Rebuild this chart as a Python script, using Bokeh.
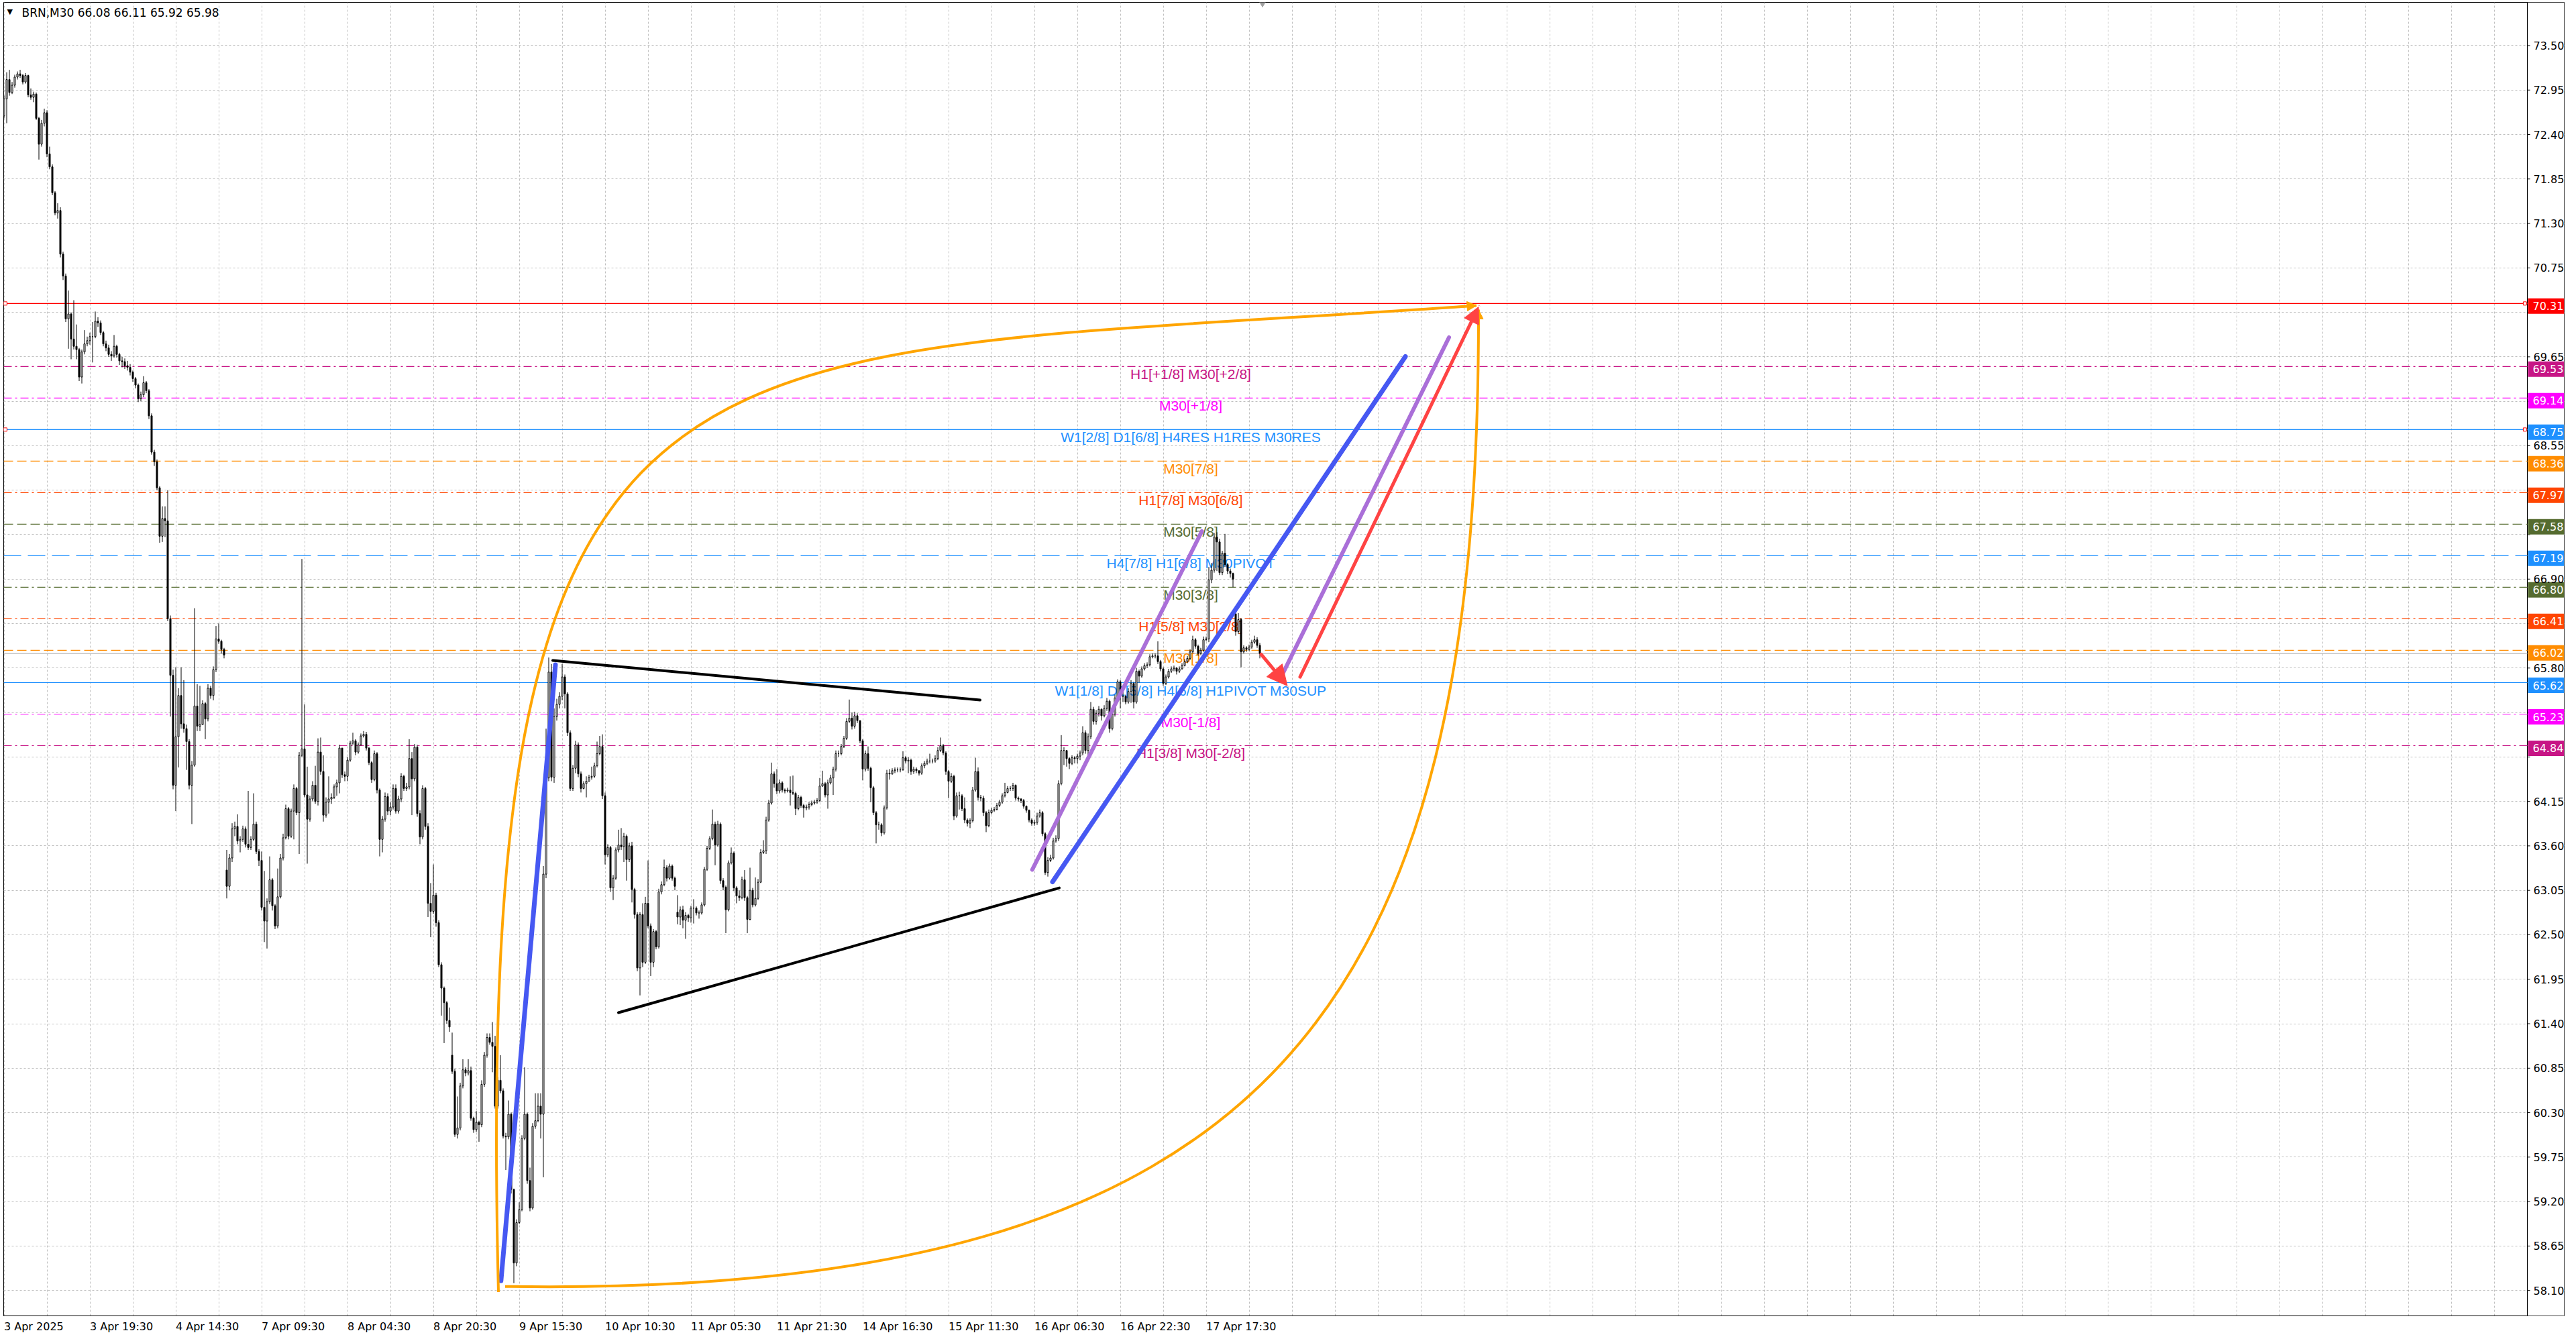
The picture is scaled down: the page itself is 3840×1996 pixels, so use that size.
from bokeh.plotting import figure
from bokeh.models import (Range1d, FixedTicker, PrintfTickFormatter, Arrow,
                          NormalHead, ColumnDataSource)
from bokeh.core.properties import value
from bokeh.embed import file_html
from bokeh.resources import INLINE

# ---------------- data ----------------
symbol = "BRN,M30"
first_open = 72.63
gap_opens = {83: 63.30, 167: 61.01, 251: 62.78, 459: 66.47}

closes = [
 72.84, 73.08, 72.92, 73.01, 73.11, 73.15, 73.13, 73.05, 73.13, 72.89,
 72.86, 72.90, 72.60, 72.28, 72.54, 72.67, 72.16, 72.00, 71.68, 71.43,
 71.46, 70.92, 70.65, 70.12, 70.18, 69.87, 69.78, 69.74, 69.40, 69.71,
 69.81, 69.85, 69.90, 69.90, 70.09, 70.07, 69.95, 69.81, 69.76, 69.68,
 69.66, 69.78, 69.68, 69.60, 69.59, 69.54, 69.52, 69.46, 69.38, 69.30,
 69.13, 69.18, 69.33, 69.23, 68.92, 68.47, 68.35, 68.03, 67.43, 67.65,
 67.62, 66.41, 65.71, 64.35, 64.95, 65.46, 65.11, 65.05, 64.89, 64.35,
 64.60, 65.33, 65.08, 65.10, 65.36, 65.17, 65.55, 65.46, 65.78, 66.16,
 66.13, 66.03, 65.96, 63.10, 63.45, 63.81, 63.84, 63.66, 63.68, 63.81,
 63.62, 63.58, 63.68, 63.87, 63.53, 63.42, 62.84, 62.67, 62.91, 63.18,
 62.86, 62.61, 62.97, 63.45, 63.70, 64.06, 63.72, 64.03, 64.31, 64.01,
 64.72, 64.80, 64.23, 63.93, 64.18, 64.35, 64.15, 64.76, 64.52, 63.98,
 64.14, 64.18, 64.20, 64.33, 64.38, 64.81, 64.48, 64.46, 64.66, 64.87,
 64.90, 64.76, 64.85, 64.96, 64.98, 64.81, 64.63, 64.42, 64.74, 64.29,
 63.68, 63.93, 64.21, 64.03, 64.08, 64.31, 64.03, 64.18, 64.46, 64.31,
 64.33, 64.68, 64.43, 64.82, 64.00, 63.71, 64.31, 63.84, 62.89, 62.79,
 62.99, 62.65, 62.13, 61.84, 61.66, 61.44, 61.36, 60.81, 60.03, 60.11,
 60.63, 60.83, 60.79, 60.82, 60.23, 60.09, 60.18, 60.15, 60.65, 61.01,
 61.23, 61.17, 61.12, 60.38, 60.70, 60.57, 60.01, 60.00, 60.28, 59.35,
 58.44, 58.94, 59.10, 59.98, 60.28, 59.46, 59.12, 60.13, 60.20, 60.38,
 60.28, 63.25, 64.44, 65.75, 64.45, 65.20, 65.35, 65.45, 65.69, 65.48,
 65.00, 64.31, 64.56, 64.85, 64.49, 64.31, 64.37, 64.40, 64.45, 64.46,
 64.59, 64.74, 64.83, 64.22, 63.49, 63.58, 63.08, 63.20, 63.55, 63.61,
 63.59, 63.72, 63.43, 63.60, 63.06, 62.75, 62.09, 62.75, 62.16, 62.89,
 62.61, 62.16, 62.54, 62.35, 63.03, 63.12, 63.33, 63.20, 63.35, 63.20,
 63.10, 62.72, 62.81, 62.68, 62.74, 62.71, 62.83, 62.83, 62.77, 62.77,
 62.87, 63.31, 63.57, 63.69, 63.87, 63.61, 63.87, 63.17, 63.09, 62.81,
 63.39, 63.51, 63.08, 62.98, 62.96, 63.18, 62.96, 62.69, 63.05, 62.87,
 62.95, 63.15, 63.52, 63.54, 63.92, 64.13, 64.49, 64.37, 64.28, 64.38,
 64.29, 64.28, 64.29, 64.26, 64.25, 64.06, 64.20, 64.10, 64.07, 64.08,
 64.11, 64.13, 64.14, 64.16, 64.34, 64.37, 64.23, 64.38, 64.44, 64.55,
 64.74, 64.74, 64.83, 64.93, 65.14, 65.18, 65.08, 65.21, 65.15, 64.90,
 64.55, 64.74, 64.56, 64.32, 64.01, 63.86, 63.86, 63.76, 64.07, 64.50,
 64.49, 64.53, 64.54, 64.54, 64.54, 64.69, 64.65, 64.66, 64.52, 64.55,
 64.53, 64.50, 64.59, 64.62, 64.65, 64.65, 64.65, 64.68, 64.78, 64.84,
 64.75, 64.52, 64.40, 64.46, 63.97, 64.22, 64.22, 64.06, 63.92, 63.88,
 63.91, 64.29, 64.52, 64.20, 64.19, 64.01, 63.85, 64.01, 64.04, 64.05,
 64.10, 64.14, 64.22, 64.26, 64.31, 64.31, 64.35, 64.19, 64.18, 64.16,
 64.09, 64.04, 63.92, 63.88, 63.89, 63.97, 64.01, 63.75, 63.27, 63.42,
 63.45, 63.66, 63.69, 64.37, 64.78, 64.78, 64.68, 64.62, 64.69, 64.68,
 64.71, 64.75, 65.00, 64.78, 64.95, 65.29, 65.14, 65.24, 65.29, 65.21,
 65.30, 65.39, 65.05, 65.23, 65.43, 65.63, 65.45, 65.45, 65.38, 65.51,
 65.61, 65.38, 65.76, 65.70, 65.79, 65.83, 65.84, 65.94, 65.95, 65.95,
 65.88, 65.79, 65.61, 65.69, 65.76, 65.79, 65.80, 65.76, 65.79, 65.83,
 65.88, 65.92, 66.00, 66.15, 66.07, 65.98, 66.02, 66.15, 66.16, 66.89,
 67.01, 67.42, 67.36, 66.98, 67.22, 67.08, 67.00, 66.97, 66.90, 66.25,
 66.40, 66.00, 66.05, 66.03, 66.06, 66.12, 66.15, 66.08, 65.98,
]
highs = [
 72.88, 73.17, 73.20, 73.05, 73.14, 73.18, 73.20, 73.15, 73.16, 73.14,
 72.97, 72.93, 72.92, 72.62, 72.58, 72.72, 72.70, 72.25, 72.03, 71.70,
 71.55, 71.50, 70.95, 70.68, 70.47, 70.20, 70.35, 70.05, 69.76, 69.74,
 69.98, 69.90, 69.95, 70.08, 70.21, 70.14, 70.10, 69.97, 69.85, 69.80,
 69.72, 69.92, 69.80, 69.70, 69.65, 69.63, 69.60, 69.56, 69.48, 69.40,
 69.32, 69.22, 69.41, 69.35, 69.25, 68.95, 68.50, 68.38, 68.05, 67.80,
 67.80, 68.00, 66.45, 65.78, 65.81, 65.55, 65.81, 65.65, 65.10, 64.92,
 64.65, 66.54, 65.60, 65.58, 65.40, 65.38, 65.60, 65.58, 65.82, 66.32,
 66.35, 66.15, 66.05, 63.55, 63.50, 63.88, 63.90, 63.99, 63.72, 63.85,
 63.84, 64.28, 63.72, 64.25, 63.90, 63.56, 63.53, 63.29, 62.95, 63.47,
 63.20, 62.88, 63.32, 63.50, 63.75, 64.11, 64.08, 64.06, 64.36, 64.33,
 64.76, 67.15, 65.35, 64.58, 64.22, 64.40, 64.59, 64.93, 64.94, 64.72,
 64.20, 64.46, 64.25, 64.36, 64.42, 64.85, 64.78, 64.52, 64.70, 64.90,
 65.00, 64.92, 64.88, 64.99, 65.02, 65.01, 64.82, 64.65, 64.78, 64.76,
 64.31, 63.97, 64.26, 64.25, 64.14, 64.36, 64.36, 64.22, 64.50, 64.48,
 64.38, 64.92, 64.76, 64.86, 64.85, 64.04, 64.35, 64.33, 63.88, 63.14,
 63.37, 63.02, 62.68, 62.16, 61.86, 61.68, 61.60, 61.29, 60.84, 60.50,
 60.67, 60.96, 60.86, 60.96, 60.87, 60.25, 60.32, 60.20, 60.70, 61.05,
 61.28, 61.28, 61.42, 61.25, 60.74, 61.01, 60.60, 60.05, 60.45, 60.30,
 59.36, 58.98, 59.19, 60.02, 60.86, 60.30, 59.62, 60.17, 60.54, 60.54,
 60.54, 63.35, 65.05, 65.93, 65.85, 65.30, 65.42, 65.50, 65.85, 65.72,
 65.50, 65.03, 64.60, 64.90, 64.88, 64.52, 64.40, 64.46, 64.48, 64.58,
 64.63, 64.89, 64.96, 64.98, 64.26, 63.62, 63.60, 63.24, 63.58, 63.80,
 63.82, 63.76, 63.74, 63.64, 63.65, 63.08, 62.78, 62.78, 62.89, 62.97,
 63.42, 62.64, 62.57, 62.56, 63.07, 63.16, 63.43, 63.36, 63.38, 63.37,
 63.22, 62.99, 62.85, 62.86, 62.78, 62.76, 62.86, 62.94, 62.85, 62.80,
 62.90, 63.34, 63.60, 63.72, 64.05, 63.90, 63.91, 63.89, 63.20, 63.11,
 63.42, 63.58, 63.53, 63.10, 63.05, 63.22, 63.30, 62.98, 63.33, 63.08,
 63.21, 63.19, 63.56, 63.67, 63.96, 64.17, 64.63, 64.52, 64.55, 64.42,
 64.40, 64.31, 64.32, 64.46, 64.47, 64.27, 64.23, 64.22, 64.12, 64.11,
 64.14, 64.16, 64.17, 64.19, 64.44, 64.53, 64.39, 64.42, 64.48, 64.58,
 64.78, 64.78, 64.86, 64.96, 65.18, 65.41, 65.25, 65.26, 65.24, 65.12,
 64.92, 64.78, 64.83, 64.58, 64.34, 64.03, 63.90, 63.88, 64.10, 64.54,
 64.55, 64.56, 64.57, 64.57, 64.57, 64.77, 64.71, 64.70, 64.68, 64.58,
 64.57, 64.53, 64.62, 64.65, 64.68, 64.74, 64.68, 64.72, 64.82, 64.94,
 64.86, 64.77, 64.54, 64.50, 64.48, 64.26, 64.27, 64.24, 64.20, 63.94,
 63.94, 64.33, 64.69, 64.57, 64.23, 64.22, 64.03, 64.05, 64.07, 64.08,
 64.13, 64.17, 64.25, 64.38, 64.34, 64.34, 64.38, 64.36, 64.21, 64.19,
 64.18, 64.10, 64.05, 63.94, 63.92, 64.01, 64.05, 64.03, 63.77, 63.46,
 63.49, 63.70, 63.73, 64.41, 64.97, 64.82, 64.72, 64.70, 64.72, 64.71,
 64.74, 64.78, 65.08, 65.03, 64.99, 65.38, 65.32, 65.28, 65.33, 65.30,
 65.34, 65.43, 65.41, 65.27, 65.47, 65.66, 65.65, 65.50, 65.47, 65.55,
 65.65, 65.63, 65.80, 65.78, 65.82, 65.86, 65.87, 65.97, 65.98, 65.98,
 66.13, 65.90, 65.81, 65.72, 65.79, 65.82, 65.83, 65.81, 65.82, 65.86,
 65.91, 65.95, 66.03, 66.20, 66.17, 66.09, 66.05, 66.19, 66.19, 67.05,
 67.10, 67.47, 67.48, 67.40, 67.25, 67.46, 67.10, 67.03, 66.98, 66.50,
 66.48, 66.42, 66.08, 66.07, 66.09, 66.15, 66.20, 66.18, 66.11,
]
lows = [
 72.60, 72.54, 72.88, 72.90, 72.98, 73.08, 73.10, 73.02, 73.03, 72.86,
 72.83, 72.80, 72.58, 72.09, 72.25, 72.50, 72.12, 71.97, 71.65, 71.40,
 71.36, 70.88, 70.60, 70.08, 69.75, 69.62, 69.74, 69.62, 69.35, 69.32,
 69.68, 69.78, 69.80, 69.58, 69.88, 70.02, 69.92, 69.78, 69.72, 69.65,
 69.60, 69.64, 69.64, 69.55, 69.52, 69.50, 69.48, 69.42, 69.34, 69.26,
 69.09, 69.10, 69.15, 69.20, 68.88, 68.44, 68.30, 68.00, 67.35, 67.36,
 67.42, 66.38, 65.20, 64.30, 64.03, 64.57, 65.05, 65.00, 64.54, 64.30,
 63.87, 64.58, 65.02, 65.02, 65.10, 64.92, 65.14, 65.42, 65.40, 65.75,
 66.10, 65.98, 65.92, 62.95, 63.05, 63.40, 63.72, 63.62, 63.52, 63.65,
 63.58, 63.55, 63.55, 63.66, 63.50, 63.35, 62.80, 62.41, 62.33, 62.88,
 62.80, 62.57, 62.58, 62.95, 63.42, 63.68, 63.68, 63.70, 63.68, 63.98,
 63.50, 64.70, 64.20, 63.38, 63.90, 64.15, 64.12, 64.10, 64.48, 63.90,
 63.95, 64.00, 64.12, 64.18, 64.22, 64.25, 64.44, 64.40, 64.40, 64.64,
 64.85, 64.72, 64.74, 64.84, 64.94, 64.78, 64.60, 64.38, 64.40, 64.25,
 63.47, 63.52, 63.90, 63.98, 63.98, 64.05, 64.00, 64.00, 64.14, 64.28,
 64.28, 64.30, 63.98, 64.40, 63.96, 63.62, 63.68, 63.80, 62.72, 62.47,
 62.76, 62.60, 62.10, 61.50, 61.16, 61.40, 61.30, 60.78, 60.00, 59.98,
 60.08, 60.60, 60.75, 60.76, 60.20, 60.05, 60.06, 59.94, 60.12, 60.62,
 60.98, 61.14, 60.80, 60.35, 60.35, 60.54, 59.98, 59.59, 59.97, 59.30,
 58.19, 58.40, 58.92, 59.08, 59.96, 59.42, 59.08, 59.10, 60.10, 60.18,
 59.98, 59.50, 63.20, 64.40, 64.40, 64.38, 65.15, 65.30, 65.40, 65.30,
 64.96, 64.28, 64.28, 64.50, 64.45, 64.26, 64.30, 64.20, 64.40, 64.42,
 64.44, 64.57, 64.72, 64.18, 63.37, 63.46, 63.03, 62.93, 63.18, 63.52,
 63.55, 63.40, 63.17, 63.40, 62.90, 62.70, 62.05, 61.75, 62.10, 62.14,
 62.58, 61.99, 62.10, 62.32, 62.33, 63.00, 63.10, 63.16, 63.18, 63.17,
 63.05, 62.63, 62.62, 62.58, 62.45, 62.66, 62.65, 62.64, 62.74, 62.70,
 62.75, 62.85, 63.29, 63.55, 63.67, 63.36, 63.59, 63.13, 63.05, 62.52,
 62.79, 63.37, 63.04, 62.89, 62.92, 62.94, 62.92, 62.52, 62.68, 62.84,
 62.85, 62.93, 63.14, 63.50, 63.50, 63.90, 64.11, 64.32, 64.24, 64.25,
 64.26, 64.25, 64.26, 64.10, 64.23, 63.98, 64.04, 64.07, 63.95, 64.04,
 64.05, 64.09, 64.11, 64.12, 64.14, 64.33, 64.20, 64.06, 64.36, 64.23,
 64.52, 64.70, 64.72, 64.81, 64.91, 65.12, 65.04, 65.05, 65.12, 64.87,
 64.41, 64.52, 64.53, 64.14, 63.98, 63.63, 63.80, 63.72, 63.74, 64.05,
 64.42, 64.48, 64.50, 64.51, 64.51, 64.53, 64.62, 64.50, 64.48, 64.49,
 64.50, 64.47, 64.48, 64.56, 64.60, 64.62, 64.62, 64.63, 64.66, 64.76,
 64.72, 64.48, 64.19, 64.38, 63.92, 63.95, 64.05, 64.03, 63.88, 63.84,
 63.82, 63.89, 64.27, 64.16, 64.15, 63.97, 63.77, 63.83, 63.99, 64.02,
 64.04, 64.08, 64.12, 64.20, 64.25, 64.28, 64.28, 64.16, 64.15, 64.13,
 64.06, 64.01, 63.89, 63.85, 63.85, 63.86, 63.95, 63.72, 63.24, 63.22,
 63.40, 63.43, 63.64, 63.66, 64.35, 64.60, 64.58, 64.55, 64.60, 64.62,
 64.62, 64.66, 64.72, 64.74, 64.70, 64.92, 65.10, 65.10, 65.20, 65.15,
 65.19, 65.27, 65.00, 65.03, 65.20, 65.41, 65.30, 65.38, 65.35, 65.36,
 65.37, 65.30, 65.36, 65.62, 65.68, 65.77, 65.80, 65.82, 65.92, 65.92,
 65.85, 65.76, 65.58, 65.59, 65.67, 65.74, 65.76, 65.72, 65.74, 65.78,
 65.82, 65.86, 65.90, 65.98, 66.04, 65.95, 65.96, 66.00, 66.13, 66.12,
 66.85, 66.98, 67.00, 66.95, 66.95, 67.05, 66.96, 66.92, 66.80, 66.20,
 66.22, 65.81, 65.98, 66.00, 66.01, 66.04, 66.10, 66.05, 65.92,
]

# time axis labels (every 32 bars)
time_tick_bars = [0, 32, 64, 96, 128, 160, 192, 224, 256, 288, 320, 352, 384, 416, 448]
time_tick_labels = ["3 Apr 2025", "3 Apr 19:30", "4 Apr 14:30", "7 Apr 09:30", "8 Apr 04:30",
                    "8 Apr 20:30", "9 Apr 15:30", "10 Apr 10:30", "11 Apr 05:30", "11 Apr 21:30",
                    "14 Apr 16:30", "15 Apr 11:30", "16 Apr 06:30", "16 Apr 22:30", "17 Apr 17:30"]
grid_step_bars = 16
price_tick_first, price_tick_step, price_tick_count = 58.10, 0.55, 29

# Murrey-math / pivot levels
level_prices = [70.31, 69.53, 69.14, 68.75, 68.36, 67.97, 67.58, 67.19, 66.80, 66.41, 66.02, 65.62, 65.23, 64.84]
level_colors = ["#FF0000", "#C71585", "#FF00FF", "#1E90FF", "#FF8C00", "#FF4500", "#556B2F",
                "#1E90FF", "#556B2F", "#FF4500", "#FF8C00", "#1E90FF", "#FF00FF", "#C71585"]
level_styles = ["solid", "dashdot", "dashdot", "solid", "dash", "dashdot", "dash",
                "longdash", "dashdot", "dashdot", "dash", "solid", "dashdot", "dashdot"]
level_texts = ["", "H1[+1/8] M30[+2/8]", "M30[+1/8]", "W1[2/8] D1[6/8] H4RES H1RES M30RES",
               "M30[7/8]", "H1[7/8] M30[6/8]", "M30[5/8]", "H4[7/8] H1[6/8] M30PIVOT",
               "M30[3/8]", "H1[5/8] M30[2/8]", "M30[1/8]", "W1[1/8] D1[5/8] H4[6/8] H1PIVOT M30SUP",
               "M30[-1/8]", "H1[3/8] M30[-2/8]"]
level_text_bar = 442.25
marked_levels = [70.31, 68.75]

# drawn objects (bar index, price)
black_x0 = [204.5, 229.0];   black_y0 = [65.894, 61.537]
black_x1 = [363.75, 393.25]; black_y1 = [65.404, 63.080]
blue_x0 = [185.2, 390.75];   blue_y0 = [58.22, 63.155]
blue_x1 = [205.5, 522.25];   blue_y1 = [65.84, 69.653]
purple_x0 = [383.2, 476.25]; purple_y0 = [63.305, 65.71]
purple_x1 = [446.4, 538.5];  purple_y1 = [67.492, 69.89]
red_x0 = [483.0, 468.5];     red_y0 = [65.69, 65.97]
red_x1 = [549.5, 478.25];    red_y1 = [70.267, 65.58]
red_head = [24, 30]
# orange lens: two cubic curves [start, ctrl1, ctrl2, end]
curve_top_x = [184.25, 175.0, 248.75, 548.75]
curve_top_y = [58.08, 70.575, 69.58, 70.284]
curve_bot_x = [186.75, 473.75, 550.0, 549.5]
curve_bot_y = [58.15, 58.00, 61.61, 70.234]

# ---------------- derived ----------------
n = len(closes)
opens = []
for i in range(n):
    if i == 0:
        opens.append(first_open)
    elif i in gap_opens:
        opens.append(gap_opens[i])
    else:
        opens.append(closes[i - 1])

# layout (pixels) and ranges
PX_PER_BAR = 4
FRAME_W, FRAME_H = 3817, 1958
SCALE_W = 55                      # width of the price-scale column inside the frame
X_START = -0.125
X_END = X_START + FRAME_W / PX_PER_BAR
AXIS_BAR = X_END - SCALE_W / PX_PER_BAR
Y_BOTTOM, Y_TOP = 57.786, 74.035
PPP = (Y_TOP - Y_BOTTOM) / FRAME_H   # price per pixel

ORANGE = "#FFA500"
BLUE = "#4658F2"
PURPLE = "#AA6FD8"
RED = "#FF4343"
FONT = "DejaVu Sans"

p = figure(frame_width=FRAME_W, frame_height=FRAME_H,
           x_range=Range1d(X_START, X_END), y_range=Range1d(Y_BOTTOM, Y_TOP),
           output_backend="svg", toolbar_location=None, y_axis_location="right",
           min_border_left=5, min_border_top=3, min_border_right=2, min_border_bottom=27,
           background_fill_color="white", border_fill_color="white")
p.outline_line_color = "black"
p.outline_line_width = 1

# price axis: real Bokeh axis, labels drawn back into the price-scale column
price_ticks = [round(price_tick_first + k * price_tick_step, 2) for k in range(price_tick_count)]
hidden = {}
for t in price_ticks:
    for lv in level_prices:
        if abs(t - (lv - 4 * PPP)) / PPP < 14:
            hidden[t] = ""
p.yaxis.ticker = FixedTicker(ticks=price_ticks)
p.yaxis.formatter = PrintfTickFormatter(format="%.2f")
p.yaxis.major_label_overrides = hidden
p.yaxis.axis_line_color = None
p.yaxis.major_tick_line_color = None
p.yaxis.major_tick_out = 0
p.yaxis.major_tick_in = 0
p.yaxis.minor_tick_out = 0
p.yaxis.minor_tick_in = 0
p.yaxis.major_label_standoff = -(SCALE_W - 9)
p.yaxis.major_label_text_font = FONT
p.yaxis.major_label_text_font_size = "16px"
p.yaxis.major_label_text_color = "black"

# time axis: labels start at their bar (MT4 style) -> shift tick by half label width
char_em = {" ": 0.318, ":": 0.337, "A": 0.684, "p": 0.635, "r": 0.411}
def label_width_px(s, size=16):
    return sum(char_em.get(ch, 0.636) for ch in s) * size
label_ticks = [b + label_width_px(t) / 2 / PX_PER_BAR for b, t in zip(time_tick_bars, time_tick_labels)]
p.xaxis.ticker = FixedTicker(ticks=label_ticks)
p.xaxis.major_label_overrides = {lt: t for lt, t in zip(label_ticks, time_tick_labels)}
p.xaxis.bounds = (X_START, AXIS_BAR)
p.xaxis.axis_line_color = "black"
p.xaxis.major_tick_line_color = None
p.xaxis.major_tick_out = 5
p.xaxis.major_tick_in = 0
p.xaxis.minor_tick_out = 0
p.xaxis.minor_tick_in = 0
p.xaxis.major_label_standoff = 1
p.xaxis.major_label_text_font = FONT
p.xaxis.major_label_text_font_size = "16px"
p.xaxis.major_label_text_color = "black"

p.xgrid.ticker = FixedTicker(ticks=list(range(0, int(AXIS_BAR), grid_step_bars)))
for g in (p.xgrid, p.ygrid):
    g.grid_line_color = "#C0C0C0"
    g.grid_line_dash = "3 3"
    g.grid_line_width = 1

# price-scale column: white background, axis line, tick marks
p.quad(left=[AXIS_BAR], right=[X_END], bottom=[Y_BOTTOM], top=[Y_TOP],
       fill_color="white", line_color=None)
p.segment(x0=[AXIS_BAR] * len(price_ticks), y0=price_ticks,
          x1=[AXIS_BAR + 1] * len(price_ticks), y1=price_ticks, line_color="black", line_width=1)
p.segment(x0=[AXIS_BAR], y0=[Y_BOTTOM], x1=[AXIS_BAR], y1=[Y_TOP], line_color="black", line_width=1)

# level lines
dash_map = {"solid": "solid", "dash": "14 6", "dashdot": "12 5 3 5", "longdash": "26 10"}
for price, col, sty in zip(level_prices, level_colors, level_styles):
    p.segment(x0=[X_START], y0=[price], x1=[AXIS_BAR], y1=[price],
              line_color=col, line_width=1.2, line_dash=dash_map[sty])
# bid line
p.segment(x0=[X_START], y0=[closes[-1]], x1=[AXIS_BAR], y1=[closes[-1]],
          line_color="#A8A8A8", line_width=1)

# level texts (under candles)
tsrc = ColumnDataSource(dict(x=[level_text_bar] * len(level_prices), y=level_prices,
                             text=level_texts, color=level_colors))
p.text(x="x", y="y", text="text", source=tsrc, text_color="color", text_align="center",
       text_baseline="top", text_font=value("Liberation Sans"), text_font_size=value("21px"))

# candles
csrc = ColumnDataSource(dict(
    x=list(range(n)), h=highs, l=lows,
    top=[max(o, c) for o, c in zip(opens, closes)],
    bottom=[min(o, c) for o, c in zip(opens, closes)],
    fill=["white" if c >= o else "black" for o, c in zip(opens, closes)]))
p.segment(x0="x", y0="h", x1="x", y1="l", source=csrc, line_color="black", line_width=1)
p.vbar(x="x", width=0.5, top="top", bottom="bottom", source=csrc,
       fill_color="fill", line_color="black", line_width=1)

# drawings
p.segment(x0=black_x0, y0=black_y0, x1=black_x1, y1=black_y1, line_color="black",
          line_width=4, line_cap="round")
p.segment(x0=purple_x0, y0=purple_y0, x1=purple_x1, y1=purple_y1, line_color=PURPLE,
          line_width=6, line_cap="round")
p.segment(x0=blue_x0, y0=blue_y0, x1=blue_x1, y1=blue_y1, line_color=BLUE,
          line_width=7, line_cap="round")
for cx, cy in ((curve_top_x, curve_top_y), (curve_bot_x, curve_bot_y)):
    p.bezier(x0=[cx[0]], y0=[cy[0]], cx0=[cx[1]], cy0=[cy[1]], cx1=[cx[2]], cy1=[cy[2]],
             x1=[cx[3]], y1=[cy[3]], line_color=ORANGE, line_width=4)
    fx = cx[3] - 0.03 * (cx[3] - cx[2])
    fy = cy[3] - 0.03 * (cy[3] - cy[2])
    p.add_layout(Arrow(end=NormalHead(size=14, fill_color=ORANGE, line_color=ORANGE),
                       x_start=fx, y_start=fy, x_end=cx[3], y_end=cy[3],
                       line_color=ORANGE, line_width=3))
for x0, y0, x1, y1, hs in zip(red_x0, red_y0, red_x1, red_y1, red_head):
    p.add_layout(Arrow(end=NormalHead(size=hs, fill_color=RED, line_color=RED),
                       x_start=x0, y_start=y0, x_end=x1, y_end=y1,
                       line_color=RED, line_width=5, line_cap="round"))

# selected-line markers
for lv in marked_levels:
    p.scatter(x=[X_START + 0.6, AXIS_BAR - 0.9], y=[lv, lv], marker="square", size=5,
              line_color="red", fill_color="white", line_width=1)

# chart-shift marker
p.scatter(x=[n], y=[Y_TOP], marker="inverted_triangle", size=12, fill_color="#A0A0A0",
          line_color="#A0A0A0")

# header
header = f"{symbol}  {opens[-1]:.2f} {highs[-1]:.2f} {lows[-1]:.2f} {closes[-1]:.2f}"
p.text(x=[X_START], y=[Y_TOP], text=[header], x_offset=27, y_offset=15, text_baseline="middle",
       text_font=value(FONT), text_font_size=value("17px"), text_color="black")
p.text(x=[X_START], y=[Y_TOP], text=["\u25BC"], x_offset=5, y_offset=14, text_baseline="middle",
       text_font=value(FONT), text_font_size=value("11px"), text_color="black")

# coloured price boxes on the price scale
bsrc = ColumnDataSource(dict(
    left=[AXIS_BAR + 0.25] * len(level_prices), right=[X_END] * len(level_prices),
    top=[lv - 4 * PPP + 11.5 * PPP for lv in level_prices],
    bottom=[lv - 4 * PPP - 11.5 * PPP for lv in level_prices],
    color=level_colors, y=level_prices, x=[AXIS_BAR + 2] * len(level_prices),
    text=[f"{lv:.2f}" for lv in level_prices]))
p.quad(left="left", right="right", top="top", bottom="bottom", source=bsrc,
       fill_color="color", line_color=None)
p.text(x="x", y="y", text="text", source=bsrc, y_offset=4, text_color="white",
       text_baseline="middle", text_align="left", text_font=value(FONT),
       text_font_size=value("16px"))

open("out.html", "w").write(file_html(p, INLINE))
